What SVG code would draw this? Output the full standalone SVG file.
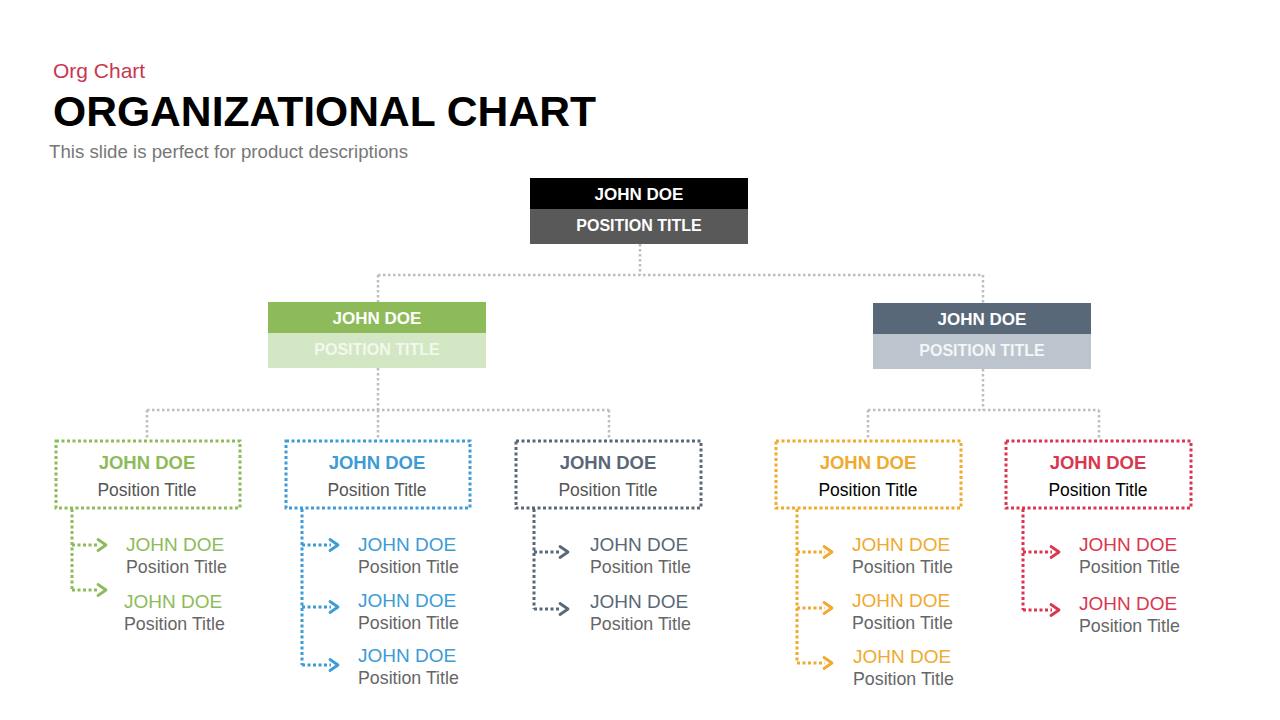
<svg xmlns="http://www.w3.org/2000/svg" width="1280" height="720" viewBox="0 0 1280 720">
<style>
.t{font-family:"Liberation Sans",Arial,sans-serif}
.b{font-weight:bold}
.c{text-anchor:middle}
.gl{fill:none;stroke:#bdbdbd;stroke-width:2.5;stroke-dasharray:2.5 2.5}
.dot{fill:none;stroke-width:3;stroke-dasharray:3 2.5}
.chev{fill:none;stroke-width:2.8;stroke-linecap:round;stroke-linejoin:round}
.n3{font-size:18.5px;font-weight:bold;text-anchor:middle}
.p3{font-size:17.5px;text-anchor:middle}
.n4{font-size:19px}
.p4{font-size:17.8px;fill:#666}
.g{stroke:#8dbb5a}.gf{fill:#8dbb5a}
.bl{stroke:#3d9bd5}.blf{fill:#3d9bd5}
.s{stroke:#596878}.sf{fill:#596878}
.o{stroke:#efaa2f}.of{fill:#efaa2f}
.r{stroke:#d9374f}.rf{fill:#d9374f}
</style>
<rect width="1280" height="720" fill="#fff"/>
<g id="header" class="t">
<text x="53" y="78" font-size="21" fill="#c8374f">Org Chart</text>
<text x="53" y="126" font-size="42" class="b" fill="#000" textLength="543" lengthAdjust="spacingAndGlyphs">ORGANIZATIONAL CHART</text>
<text x="49" y="158" font-size="18" fill="#777" textLength="359" lengthAdjust="spacingAndGlyphs">This slide is perfect for product descriptions</text>
</g>
<g id="connectors">
<path class="gl" d="M640 244V275M378 275H983M378 275V302M983 275V303"/>
<path class="gl" d="M378 368V410M147 410H609M147 410V440M378 410V440M609 410V440"/>
<path class="gl" d="M983 369V410M868 410H1099M868 410V440M1099 410V440"/>
<path class="dot g" d="M72 509V590M72 545H99M72 590H99"/>
<path class="chev g" d="M98 539.5L106 545L98 550.5M98 584.5L106 590L98 595.5"/>
<path class="dot bl" d="M302 509V665M302 545H331M302 607H331M302 665H331"/>
<path class="chev bl" d="M330 539.5L338 545L330 550.5M330 601.5L338 607L330 612.5M330 659.5L338 665L330 670.5"/>
<path class="dot s" d="M534 509V609M534 552H561M534 609H561"/>
<path class="chev s" d="M560 546.5L568 552L560 557.5M560 603.5L568 609L560 614.5"/>
<path class="dot o" d="M797 509V663M797 552H825M797 608H825M797 663H825"/>
<path class="chev o" d="M824 546.5L832 552L824 557.5M824 602.5L832 608L824 613.5M824 657.5L832 663L824 668.5"/>
<path class="dot r" d="M1023 509V610M1023 552H1052M1023 610H1052"/>
<path class="chev r" d="M1051 546.5L1059 552L1051 557.5M1051 604.5L1059 610L1051 615.5"/>
</g>
<g id="ceo" class="t">
<rect x="530" y="178" width="218" height="31" fill="#000"/>
<rect x="530" y="209" width="218" height="35" fill="#595959"/>
<text x="639" y="200" font-size="17" class="b c" fill="#fff">JOHN DOE</text>
<text x="639" y="231" font-size="16" class="b c" fill="#fff">POSITION TITLE</text>
</g>
<g id="mgr-green" class="t">
<rect x="268" y="302" width="218" height="31" fill="#8dbb5a"/>
<rect x="268" y="333" width="218" height="35" fill="#d4e7c4"/>
<text x="377" y="324" font-size="17" class="b c" fill="#fff">JOHN DOE</text>
<text x="377" y="355" font-size="16" class="b c" fill="#f2f8ec">POSITION TITLE</text>
</g>
<g id="mgr-slate" class="t">
<rect x="873" y="303" width="218" height="31" fill="#596878"/>
<rect x="873" y="334" width="218" height="35" fill="#bcc5cd"/>
<text x="982" y="325" font-size="17" class="b c" fill="#fff">JOHN DOE</text>
<text x="982" y="356" font-size="16" class="b c" fill="#f4f6f8">POSITION TITLE</text>
</g>
<g id="lead-green" class="t">
<rect class="dot g" x="56" y="441" width="184" height="67"/>
<text x="147" y="469" class="n3 gf">JOHN DOE</text>
<text x="147" y="496" class="p3" fill="#555">Position Title</text>
</g>
<g id="lead-blue" class="t">
<rect class="dot bl" x="286" y="441" width="184" height="67"/>
<text x="377" y="469" class="n3 blf">JOHN DOE</text>
<text x="377" y="496" class="p3" fill="#555">Position Title</text>
</g>
<g id="lead-slate" class="t">
<rect class="dot s" x="516" y="441" width="185" height="67"/>
<text x="608" y="469" class="n3 sf">JOHN DOE</text>
<text x="608" y="496" class="p3" fill="#555">Position Title</text>
</g>
<g id="lead-orange" class="t">
<rect class="dot o" x="776" y="441" width="185" height="67"/>
<text x="868" y="469" class="n3 of">JOHN DOE</text>
<text x="868" y="496" class="p3" fill="#000">Position Title</text>
</g>
<g id="lead-red" class="t">
<rect class="dot r" x="1006" y="441" width="185" height="67"/>
<text x="1098" y="469" class="n3 rf">JOHN DOE</text>
<text x="1098" y="496" class="p3" fill="#000">Position Title</text>
</g>
<g id="green-1" class="t"><text x="126" y="551" class="n4" fill="#8dbb5a">JOHN DOE</text><text x="126" y="573" class="p4">Position Title</text></g>
<g id="green-2" class="t"><text x="124" y="608" class="n4" fill="#8dbb5a">JOHN DOE</text><text x="124" y="630" class="p4">Position Title</text></g>
<g id="blue-1" class="t"><text x="358" y="551" class="n4" fill="#3d9bd5">JOHN DOE</text><text x="358" y="573" class="p4">Position Title</text></g>
<g id="blue-2" class="t"><text x="358" y="607" class="n4" fill="#3d9bd5">JOHN DOE</text><text x="358" y="629" class="p4">Position Title</text></g>
<g id="blue-3" class="t"><text x="358" y="662" class="n4" fill="#3d9bd5">JOHN DOE</text><text x="358" y="684" class="p4">Position Title</text></g>
<g id="slate-1" class="t"><text x="590" y="551" class="n4" fill="#596878">JOHN DOE</text><text x="590" y="573" class="p4">Position Title</text></g>
<g id="slate-2" class="t"><text x="590" y="608" class="n4" fill="#596878">JOHN DOE</text><text x="590" y="630" class="p4">Position Title</text></g>
<g id="orange-1" class="t"><text x="852" y="551" class="n4" fill="#efaa2f">JOHN DOE</text><text x="852" y="573" class="p4">Position Title</text></g>
<g id="orange-2" class="t"><text x="852" y="607" class="n4" fill="#efaa2f">JOHN DOE</text><text x="852" y="629" class="p4">Position Title</text></g>
<g id="orange-3" class="t"><text x="853" y="663" class="n4" fill="#efaa2f">JOHN DOE</text><text x="853" y="685" class="p4">Position Title</text></g>
<g id="red-1" class="t"><text x="1079" y="551" class="n4" fill="#d9374f">JOHN DOE</text><text x="1079" y="573" class="p4">Position Title</text></g>
<g id="red-2" class="t"><text x="1079" y="610" class="n4" fill="#d9374f">JOHN DOE</text><text x="1079" y="632" class="p4">Position Title</text></g>
</svg>
